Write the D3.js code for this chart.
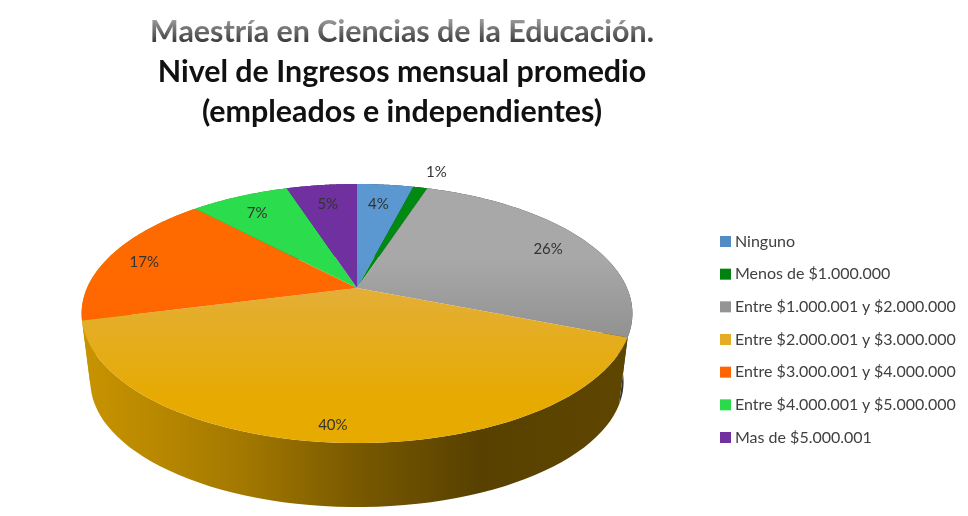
<!DOCTYPE html>
<html>
<head>
<meta charset="utf-8">
<script src="https://cdn.jsdelivr.net/npm/d3@7"></script>
<style>
  html, body { margin: 0; padding: 0; background: #fff; }
  svg { display: block; filter: blur(0.45px); }
  text { font-family: Lato, "Open Sans", sans-serif; }
</style>
</head>
<body>
<svg width="968" height="516"></svg>
<script>
var categories = [
  "Ninguno",
  "Menos de $1.000.000",
  "Entre $1.000.001 y $2.000.000",
  "Entre $2.000.001 y $3.000.000",
  "Entre $3.000.001 y $4.000.000",
  "Entre $4.000.001 y $5.000.000",
  "Mas de $5.000.001"
];
var percents = [4, 1, 26, 40, 17, 7, 5];
var titleLines = [
  "Maestría en Ciencias de la Educación.",
  "Nivel de Ingresos mensual promedio",
  "(empleados e independientes)"
];
var topColors = ["#5b97d0", "#008a12", "#a8a8a8", "#e3b045", "#ff6a00", "#2bdc4c", "#7030a0"];
var bottomColors = ["#4a7fb8", "#007a10", "#7f7f7f", "#e6aa00", "#ff6000", "#2bd84a", "#7030a0"];

var svg = d3.select("svg");
var defs = svg.append("defs");

// pie seen in perspective: apex of the top face, half axes and tilt
var apexX = 357, apexY = 288, radiusX = 270, radiusY = 124.5, tilt = 0.197;
// bottom face is the same shape, a bit smaller and lower
var depth = 69, bottomScale = 0.968;

function project(angle, r, floor) {
  var u = Math.sin(angle) * r, v = -Math.cos(angle) * r;
  var w = 1 / (1 - tilt * v);
  var s = floor ? bottomScale : 1;
  return [apexX + radiusX * u * w * s, apexY + (floor ? depth : 0) + radiusY * v * w * s];
}

function arcPoints(a0, a1, floor) {
  return d3.range(0, 61).map(function(i) {
    return project(a0 + (a1 - a0) * i / 60, 1, floor);
  });
}

var line = d3.line();
var slices = d3.pie().sort(null).value(function(d) { return d; })(percents);

// shading of the side wall runs left to right
var wallStops = [[0, 0.4], [0.12, 0.6], [0.3, 1.0], [0.5, 1.8], [0.72, 2.7], [1, 2.5]];

slices.forEach(function(d, i) {
  var top = defs.append("linearGradient").attr("id", "top" + i)
      .attr("gradientUnits", "userSpaceOnUse")
      .attr("x1", 0).attr("x2", 0).attr("y1", 184).attr("y2", 400);
  top.append("stop").attr("offset", 0.35).attr("stop-color", topColors[i]);
  top.append("stop").attr("offset", 1).attr("stop-color", bottomColors[i]);

  var wall = defs.append("linearGradient").attr("id", "wall" + i)
      .attr("gradientUnits", "userSpaceOnUse")
      .attr("x1", 85).attr("x2", 630).attr("y1", 0).attr("y2", 0);
  wallStops.forEach(function(s) {
    wall.append("stop").attr("offset", s[0])
        .attr("stop-color", d3.color(bottomColors[i]).darker(s[1]).formatHex());
  });
});

// walls first, the top face hides the back ones
// the reference shows no orange wall on the left edge, the yellow one runs on
svg.append("g").selectAll("path").data(slices).enter().append("path")
    .attr("d", function(d) {
      var upper = arcPoints(d.startAngle, d.endAngle, false);
      var lower = arcPoints(d.startAngle, d.endAngle, true).reverse();
      return line(upper.concat(lower)) + "Z";
    })
    .attr("fill", function(d, i) { return "url(#wall" + (i == 4 ? 3 : i) + ")"; });

svg.append("g").selectAll("path").data(slices).enter().append("path")
    .attr("d", function(d) {
      return line([[apexX, apexY]].concat(arcPoints(d.startAngle, d.endAngle, false))) + "Z";
    })
    .attr("fill", function(d, i) { return "url(#top" + i + ")"; });

// Excel moved these labels by hand, so each one has a nudge from r = 0.8
var labelNudge = [[-2, 1], [27, -33], [8, 0], [-8, 19], [-14, 0], [-3, 0], [0, 1]];

svg.append("g").selectAll("text").data(slices).enter().append("text")
    .attr("x", function(d, i) { return project((d.startAngle + d.endAngle) / 2, 0.8)[0] + labelNudge[i][0]; })
    .attr("y", function(d, i) { return project((d.startAngle + d.endAngle) / 2, 0.8)[1] + labelNudge[i][1]; })
    .attr("dy", "0.35em")
    .attr("text-anchor", "middle")
    .attr("font-size", 15)
    .attr("fill", "#333")
    .text(function(d) { return d.value + "%"; });

// legend
var legendY = d3.scalePoint().domain(categories).range([241, 437]);
var legend = svg.append("g").selectAll("g").data(categories).enter().append("g")
    .attr("transform", function(d) { return "translate(720," + legendY(d) + ")"; });
legend.append("rect")
    .attr("y", -5).attr("width", 11).attr("height", 11)
    .attr("fill", function(d, i) { return d3.interpolateRgb(topColors[i], bottomColors[i])(0.5); });
legend.append("text")
    .attr("x", 15).attr("dy", "0.35em")
    .attr("font-size", 16)
    .attr("fill", "#404040")
    .text(function(d) { return d; });

// title, first line fades out towards the top
var fade = defs.append("linearGradient").attr("id", "fade")
    .attr("gradientUnits", "userSpaceOnUse")
    .attr("x1", 0).attr("x2", 0).attr("y1", 20).attr("y2", 44);
fade.append("stop").attr("offset", 0).attr("stop-color", "#9a9a9a");
fade.append("stop").attr("offset", 1).attr("stop-color", "#333");

var titleY = d3.scalePoint().domain(titleLines).range([42, 122]);
svg.append("g").selectAll("text").data(titleLines).enter().append("text")
    .attr("x", 402)
    .attr("y", function(d) { return titleY(d); })
    .attr("text-anchor", "middle")
    .attr("font-size", 30.4)
    .attr("font-weight", 700)
    .attr("fill", function(d, i) { return i == 0 ? "url(#fade)" : "#111"; })
    .text(function(d) { return d; });
</script>
</body>
</html>
